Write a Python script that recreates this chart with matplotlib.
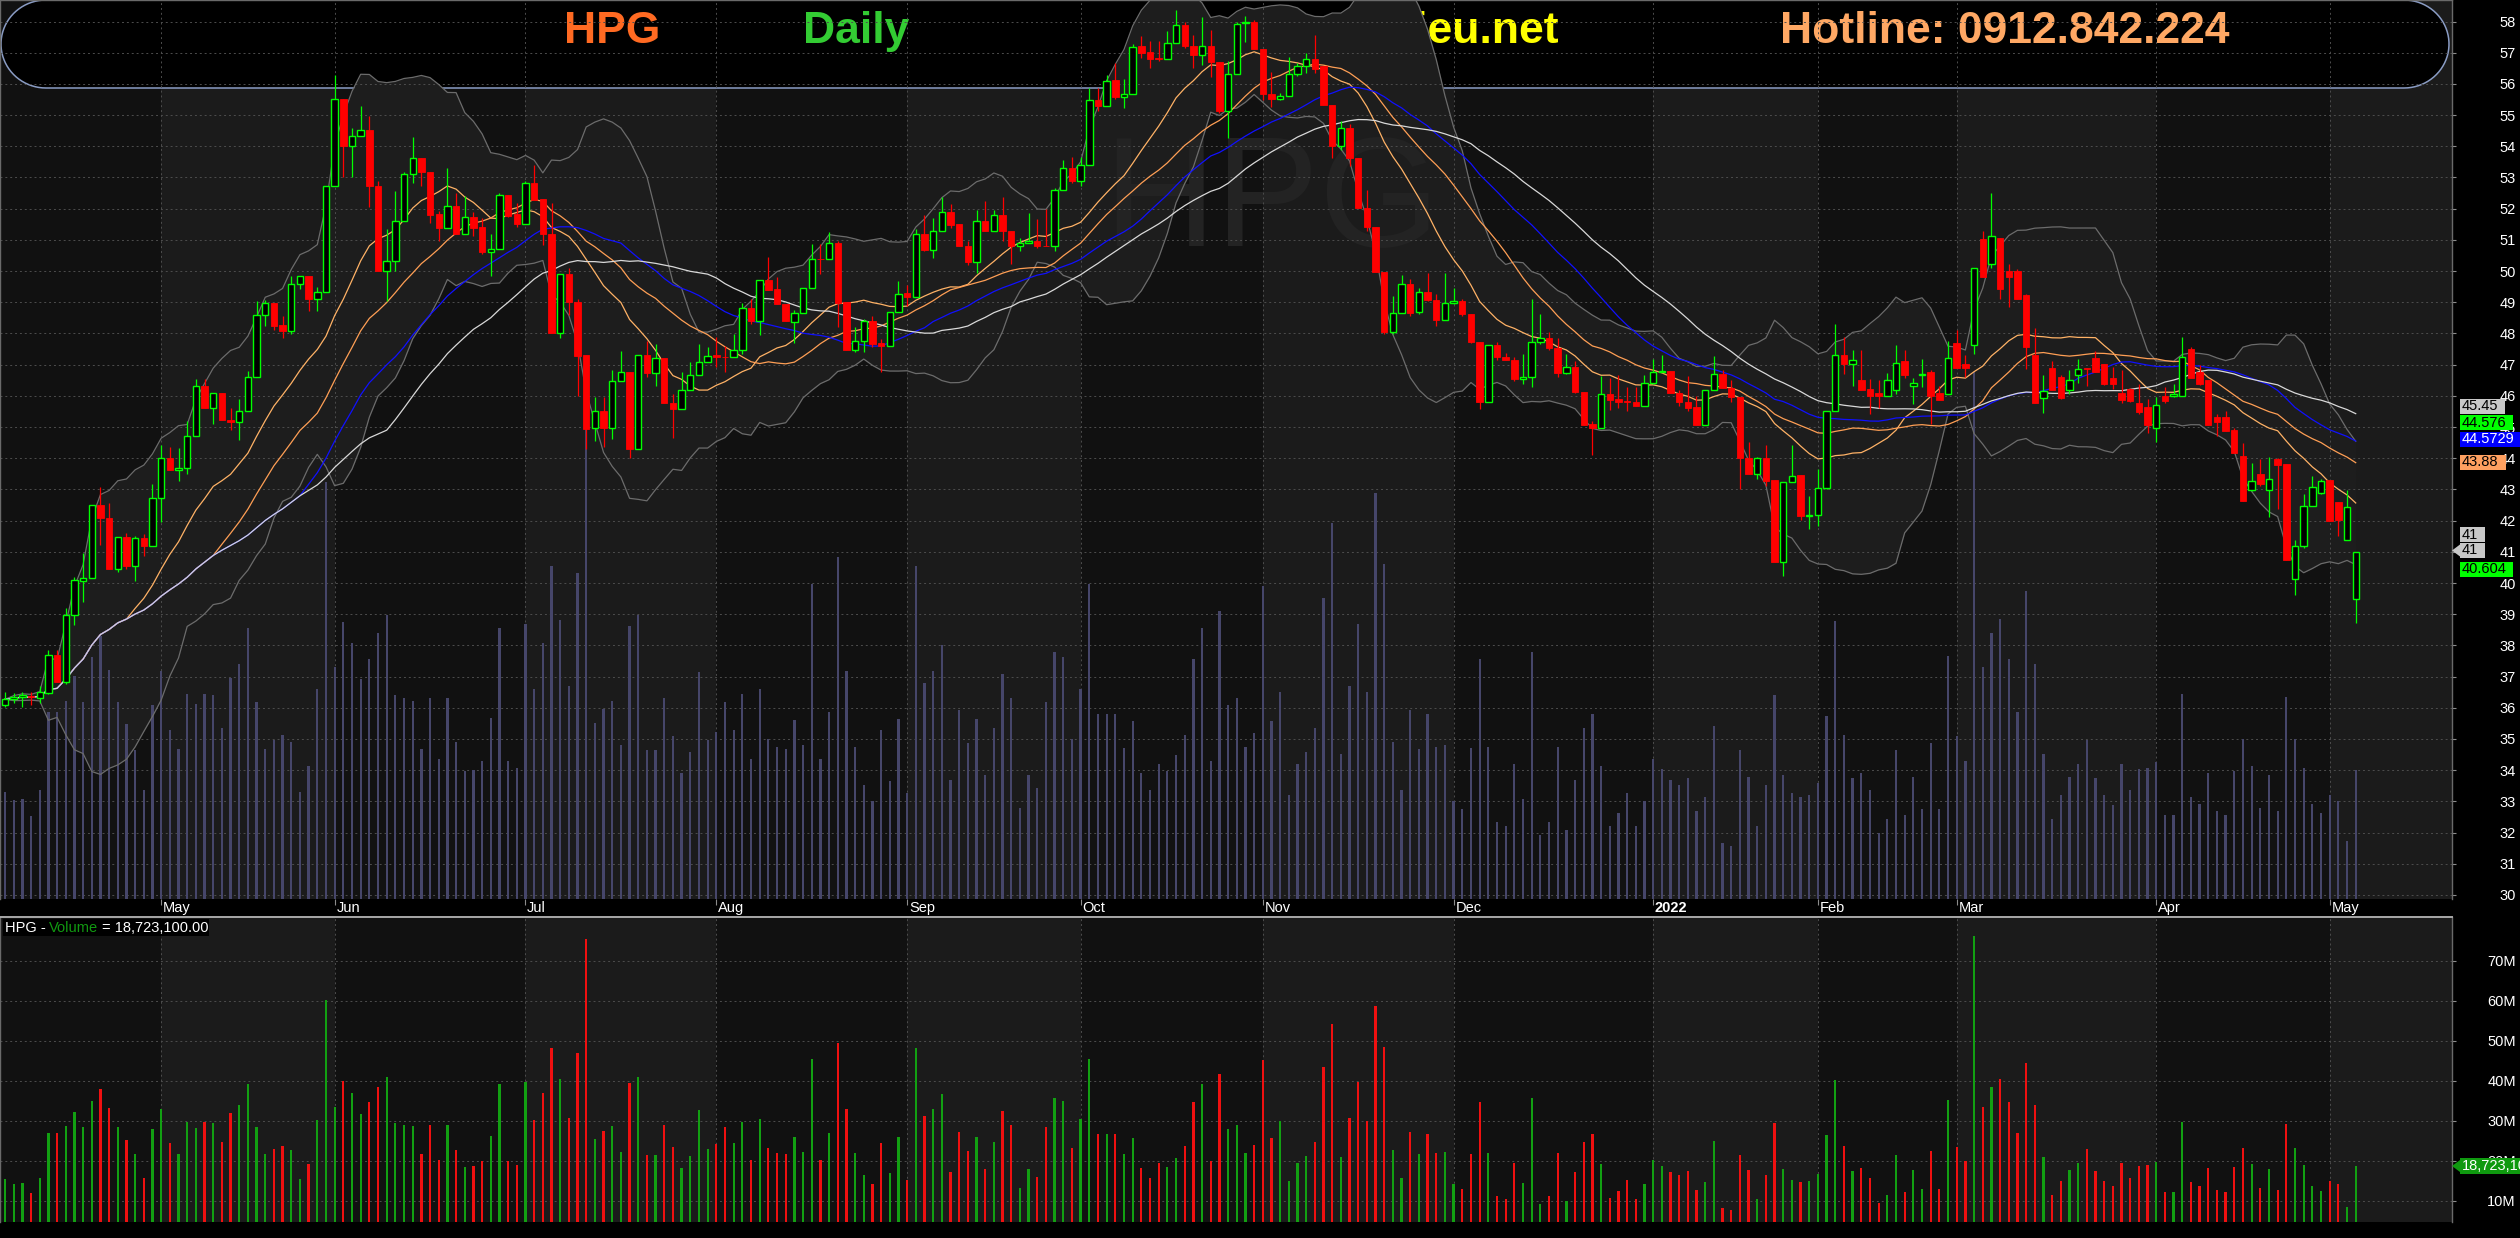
import numpy as np
import pandas as pd
import matplotlib
matplotlib.use("Agg")
import matplotlib.pyplot as plt
from matplotlib.patches import Polygon
from matplotlib.transforms import blended_transform_factory

# HPG daily, avr 2021 -> mai 2022 (prix en milliers, volume en millions)
opens = [
    36.08, 36.27, 36.35, 36.38, 36.32, 36.46, 37.68, 36.84, 38.97, 40.08,
    40.16, 42.51, 42.1, 40.46, 41.47, 40.53, 41.43, 41.19, 42.74, 44.0,
    43.63, 43.7, 44.72, 46.32, 45.6, 46.1, 45.24, 45.16, 45.51, 46.6,
    48.59, 48.99, 48.28, 48.08, 49.57, 49.85, 49.11, 49.34, 52.72, 55.51,
    54.0, 54.32, 54.51, 52.72, 50.01, 50.31, 51.62, 53.1, 53.62, 53.19,
    51.83, 51.39, 52.1, 51.19, 51.72, 51.4, 50.62, 50.71, 52.43, 51.83,
    51.52, 52.82, 52.31, 51.2, 48.0, 49.91, 49.01, 47.3, 44.96, 45.5,
    44.96, 46.48, 46.75, 44.28, 47.3, 46.74, 47.2, 45.78, 45.59, 46.19,
    46.68, 47.1, 47.31, 47.26, 47.24, 47.48, 48.82, 48.39, 49.72, 49.42,
    48.96, 48.38, 48.65, 49.45, 50.4, 50.38, 50.9, 49.0, 47.48, 47.75,
    48.39, 47.69, 47.59, 48.68, 49.3, 49.18, 51.19, 50.69, 51.27, 51.89,
    51.51, 50.8, 50.29, 51.61, 51.28, 51.79, 51.28, 50.8, 50.9, 50.98,
    50.81, 50.8, 52.59, 53.29, 52.88, 53.4, 55.49, 55.3, 56.12, 55.59,
    55.69, 57.2, 57.02, 56.82, 56.8, 57.3, 57.9, 57.21, 56.92, 57.21,
    56.69, 55.12, 56.31, 57.94, 58.0, 57.11, 55.69, 55.53, 55.62, 56.31,
    56.58, 56.8, 56.58, 55.31, 54.01, 54.6, 53.63, 52.02, 51.41, 49.98,
    48.05, 48.67, 49.6, 48.68, 49.32, 49.06, 48.43, 48.98, 49.05, 48.62,
    47.73, 45.81, 47.62, 47.26, 47.16, 46.53, 46.62, 47.73, 47.84, 47.53,
    46.72, 46.94, 46.12, 45.1, 44.96, 46.07, 45.9, 45.82, 45.8, 45.69,
    46.42, 46.76, 46.8, 46.09, 45.8, 45.64, 45.08, 46.2, 46.69, 46.25,
    45.96, 44.0, 43.51, 44.0, 43.3, 40.67, 43.24, 43.46, 42.15, 42.17,
    43.06, 45.53, 47.32, 47.01, 46.52, 46.23, 46.09, 45.99, 46.2, 47.12,
    46.31, 46.67, 46.76, 46.09, 46.07, 47.71, 47.01, 47.62, 51.02, 50.22,
    51.06, 50.0, 50.0, 49.22, 47.32, 45.93, 46.89, 46.6, 46.2, 46.67,
    46.9, 47.21, 47.02, 46.57, 46.08, 46.21, 45.78, 45.63, 44.98, 45.99,
    45.98, 45.98, 47.5, 46.75, 46.5, 45.31, 45.31, 44.9, 44.06, 42.98,
    43.51, 42.98, 43.99, 43.8, 40.13, 41.18, 42.46, 42.89, 43.29, 42.61,
    41.37, 39.48,
]
highs = [
    36.5, 36.46, 36.5, 36.5, 36.7, 37.86, 37.86, 39.2, 40.2, 40.95,
    42.51, 43.08, 42.58, 41.47, 41.6, 41.5, 41.57, 43.16, 44.43, 44.36,
    44.34, 45.2, 46.53, 46.53, 46.1, 46.1, 45.6, 45.9, 46.81, 49.03,
    49.07, 48.99, 48.57, 49.84, 49.85, 49.85, 49.5, 52.72, 56.3, 55.51,
    54.6, 55.28, 54.97, 52.88, 51.36, 52.58, 53.17, 54.3, 53.62, 53.19,
    51.91, 53.31, 52.5, 52.4, 51.88, 51.7, 51.18, 52.5, 52.43, 52.18,
    52.9, 53.4, 52.31, 52.18, 49.91, 50.09, 49.09, 47.3, 45.95, 45.95,
    46.83, 47.43, 46.75, 47.3, 47.75, 47.67, 47.2, 46.05, 46.75, 47.08,
    47.67, 47.56, 47.9, 47.6, 47.99, 48.99, 49.1, 49.72, 50.46, 49.8,
    48.96, 48.75, 49.45, 50.88, 50.88, 51.25, 50.98, 49.0, 48.2, 48.47,
    48.55, 47.82, 48.68, 49.68, 49.54, 51.36, 51.81, 51.7, 52.37, 52.14,
    51.51, 50.95, 51.95, 52.26, 51.95, 52.36, 51.28, 51.06, 51.86, 51.66,
    51.98, 52.67, 53.57, 53.66, 53.66, 55.86, 55.86, 56.27, 56.66, 56.16,
    57.28, 57.55, 57.38, 57.36, 57.7, 58.36, 57.98, 57.56, 58.13, 57.72,
    56.69, 56.73, 58.0, 58.19, 58.06, 57.11, 56.38, 55.72, 56.86, 56.67,
    56.99, 57.56, 56.58, 55.31, 54.81, 54.7, 53.63, 52.61, 51.41, 49.98,
    49.19, 49.89, 49.74, 49.45, 49.95, 49.28, 49.95, 49.45, 49.11, 48.62,
    47.73, 47.62, 47.73, 47.38, 47.23, 47.35, 49.1, 48.62, 48.05, 47.84,
    47.33, 47.13, 46.12, 45.2, 46.64, 46.58, 46.68, 46.28, 46.28, 46.66,
    47.19, 47.32, 46.8, 46.2, 46.64, 46.01, 46.2, 47.28, 46.84, 46.5,
    45.96, 44.51, 44.05, 44.42, 43.3, 43.24, 44.42, 43.46, 42.79, 43.67,
    45.53, 48.29, 47.89, 47.48, 47.48, 46.55, 46.5, 46.74, 47.64, 47.48,
    46.57, 47.19, 46.84, 46.33, 47.76, 48.11, 47.32, 50.11, 51.29, 52.5,
    51.06, 50.23, 50.07, 49.28, 48.16, 46.66, 47.12, 46.66, 46.82, 47.18,
    46.9, 47.45, 47.02, 46.92, 46.83, 46.25, 46.37, 45.91, 45.97, 46.27,
    46.37, 47.9, 47.55, 47.0, 46.5, 45.41, 45.5, 44.98, 44.5, 43.86,
    43.96, 44.05, 44.02, 43.8, 41.37, 42.86, 43.43, 43.35, 43.29, 42.61,
    42.98, 41.0,
]
lows = [
    36.02, 36.16, 36.03, 36.08, 36.16, 36.45, 36.84, 36.77, 38.66, 39.4,
    40.16, 41.23, 40.46, 40.35, 40.46, 40.05, 40.86, 41.19, 41.97, 43.62,
    43.28, 43.5, 44.72, 45.6, 45.1, 45.24, 44.9, 44.6, 45.51, 46.6,
    48.23, 48.12, 47.84, 47.99, 49.43, 48.73, 48.73, 49.34, 52.72, 53.01,
    53.01, 54.32, 52.04, 50.01, 49.03, 50.01, 51.62, 52.83, 52.74, 51.54,
    50.95, 51.39, 51.19, 51.19, 51.13, 50.54, 49.84, 50.71, 51.72, 51.41,
    51.52, 52.29, 50.84, 48.0, 47.87, 48.58, 46.0, 44.3, 44.55, 44.37,
    44.62, 46.48, 44.01, 44.28, 46.61, 46.32, 45.78, 44.66, 45.59, 46.19,
    46.68, 47.1, 46.91, 46.77, 47.24, 47.34, 48.31, 47.96, 49.38, 48.94,
    48.39, 47.71, 48.65, 49.45, 49.91, 50.38, 48.2, 47.48, 47.39, 47.41,
    47.55, 46.77, 47.59, 48.68, 48.89, 49.18, 50.63, 50.42, 51.27, 51.38,
    50.8, 50.2, 49.94, 51.28, 51.28, 50.95, 50.23, 50.63, 50.9, 50.74,
    50.8, 50.63, 52.59, 52.83, 52.73, 53.4, 55.13, 55.3, 55.52, 55.24,
    55.69, 56.83, 56.52, 56.72, 56.8, 57.3, 57.15, 56.5, 56.6, 56.23,
    55.06, 54.26, 56.31, 57.34, 57.11, 55.49, 55.27, 55.49, 55.62, 56.25,
    56.35, 56.35, 55.31, 53.63, 53.88, 53.37, 52.02, 51.28, 49.98, 47.99,
    47.99, 48.67, 48.56, 48.62, 49.03, 48.24, 48.43, 48.94, 48.56, 47.71,
    45.58, 45.81, 47.16, 47.14, 46.47, 46.37, 46.28, 47.67, 47.48, 46.62,
    46.7, 46.09, 45.05, 44.1, 44.96, 45.56, 45.6, 45.53, 45.69, 45.69,
    46.39, 46.76, 46.09, 45.66, 45.53, 45.08, 45.08, 46.2, 46.25, 45.8,
    43.01, 43.49, 43.33, 43.12, 40.67, 40.22, 43.24, 42.02, 41.74, 41.83,
    43.0, 45.53, 46.71, 46.33, 46.2, 45.42, 45.6, 45.99, 46.07, 46.57,
    45.74, 46.28, 45.1, 45.88, 46.07, 46.89, 46.6, 47.35, 49.82, 50.11,
    49.09, 48.86, 49.12, 46.86, 45.76, 45.44, 46.19, 45.89, 46.05, 46.41,
    46.3, 46.77, 46.34, 46.21, 45.78, 45.81, 45.41, 44.82, 44.52, 45.78,
    45.95, 45.98, 46.56, 46.34, 45.07, 44.71, 44.87, 44.16, 42.62, 42.94,
    43.1, 42.12, 42.38, 40.73, 39.62, 41.12, 42.46, 42.86, 41.98, 41.5,
    41.37, 38.71,
]
closes = [
    36.27, 36.35, 36.4, 36.33, 36.49, 37.68, 36.84, 38.97, 40.11, 40.16,
    42.51, 42.08, 40.46, 41.47, 40.53, 41.43, 41.19, 42.74, 44.0, 43.62,
    43.7, 44.72, 46.32, 45.6, 46.1, 45.24, 45.16, 45.51, 46.6, 48.59,
    48.99, 48.23, 48.08, 49.57, 49.85, 49.11, 49.34, 52.72, 55.51, 54.0,
    54.32, 54.51, 52.72, 50.01, 50.31, 51.62, 53.1, 53.62, 53.19, 51.81,
    51.39, 52.1, 51.19, 51.72, 51.38, 50.62, 50.71, 52.43, 51.78, 51.52,
    52.82, 52.29, 51.2, 48.0, 49.91, 49.01, 47.29, 44.94, 45.5, 44.96,
    46.48, 46.75, 44.28, 47.3, 46.74, 47.2, 45.78, 45.59, 46.19, 46.68,
    47.1, 47.29, 47.23, 47.24, 47.48, 48.82, 48.39, 49.72, 49.38, 48.94,
    48.39, 48.65, 49.45, 50.38, 50.38, 50.9, 48.98, 47.48, 47.75, 48.39,
    47.67, 47.59, 48.68, 49.28, 49.18, 51.19, 50.69, 51.27, 51.89, 51.47,
    50.8, 50.29, 51.61, 51.28, 51.79, 51.28, 50.8, 50.9, 50.98, 50.8,
    50.8, 52.59, 53.29, 52.88, 53.4, 55.49, 55.3, 56.1, 55.58, 55.69,
    57.18, 57.0, 56.8, 56.8, 57.3, 57.9, 57.2, 56.92, 57.21, 56.69,
    55.12, 56.31, 57.91, 58.0, 57.11, 55.69, 55.53, 55.62, 56.31, 56.58,
    56.8, 56.48, 55.31, 54.01, 54.6, 53.63, 52.02, 51.41, 49.98, 48.05,
    48.67, 49.6, 48.67, 49.32, 49.06, 48.43, 48.98, 49.03, 48.62, 47.73,
    45.81, 47.62, 47.23, 47.14, 46.53, 46.62, 47.73, 47.86, 47.53, 46.72,
    46.91, 46.12, 45.05, 44.96, 46.07, 45.88, 45.8, 45.8, 45.69, 46.42,
    46.76, 46.8, 46.09, 45.8, 45.62, 45.08, 46.2, 46.69, 46.25, 45.96,
    44.0, 43.49, 44.0, 43.28, 40.67, 43.24, 43.44, 42.15, 42.17, 43.06,
    45.53, 47.32, 47.01, 47.15, 46.2, 45.99, 45.99, 46.51, 47.05, 46.66,
    46.41, 46.69, 45.99, 45.88, 47.21, 46.89, 46.89, 50.11, 49.82, 51.11,
    49.43, 49.81, 49.12, 47.57, 45.76, 46.14, 46.19, 45.92, 46.5, 46.85,
    46.87, 46.77, 46.37, 46.37, 45.86, 45.84, 45.48, 45.07, 45.7, 45.84,
    46.07, 47.23, 46.56, 46.37, 45.07, 45.16, 44.87, 44.16, 42.62, 43.28,
    43.17, 43.34, 43.78, 40.73, 41.18, 42.46, 43.07, 43.27, 41.98, 42.01,
    42.44, 41.0,
]
volumes = [
    15.5, 14.3, 14.5, 12.0, 15.8, 27.0, 27.0, 28.7, 32.3, 28.5,
    35.0, 38.0, 33.1, 28.5, 25.3, 21.6, 15.8, 28.0, 33.0, 24.5,
    21.7, 29.7, 28.2, 29.7, 29.5, 24.7, 32.0, 34.0, 39.2, 28.5,
    21.7, 23.0, 23.7, 22.7, 15.5, 19.3, 30.3, 60.3, 33.5, 40.0,
    37.0, 31.8, 34.7, 38.5, 41.0, 29.5, 29.0, 28.7, 21.7, 29.0,
    20.3, 29.0, 22.7, 18.5, 18.7, 20.0, 26.2, 39.2, 20.0, 19.0,
    39.8, 30.3, 37.0, 48.2, 40.4, 30.8, 47.1, 75.5, 25.4, 27.5,
    28.7, 22.2, 39.5, 41.0, 21.5, 21.5, 29.0, 23.5, 18.2, 21.3,
    32.8, 23.0, 24.2, 28.5, 24.5, 29.7, 20.3, 30.4, 23.2, 22.0,
    21.7, 25.9, 22.2, 45.5, 20.3, 27.0, 49.5, 33.0, 22.0, 16.5,
    14.1, 24.4, 17.0, 26.0, 15.3, 48.2, 31.3, 33.0, 36.8, 17.2,
    27.3, 22.5, 26.0, 18.0, 24.7, 32.5, 29.0, 13.2, 18.0, 16.0,
    28.5, 35.7, 35.0, 23.2, 30.4, 45.5, 26.8, 26.8, 26.8, 21.8,
    25.8, 18.2, 15.8, 19.5, 18.5, 20.8, 23.7, 34.7, 39.2, 20.0,
    41.7, 28.0, 29.0, 22.0, 24.0, 45.2, 25.8, 30.0, 15.0, 19.5,
    21.3, 24.7, 43.5, 54.3, 21.0, 30.8, 39.7, 30.0, 58.7, 48.5,
    22.7, 15.8, 27.3, 21.7, 26.8, 22.0, 22.2, 14.1, 13.0, 21.8,
    34.7, 22.0, 11.1, 10.5, 19.5, 14.5, 35.7, 9.3, 11.1, 22.0,
    10.0, 17.2, 24.7, 26.8, 19.2, 10.6, 12.5, 15.3, 10.5, 14.1,
    20.3, 18.8, 17.2, 16.5, 17.5, 12.7, 14.8, 25.0, 8.1, 7.6,
    21.5, 17.7, 10.5, 16.5, 29.5, 18.0, 15.3, 14.8, 15.0, 16.8,
    26.5, 40.2, 23.7, 17.5, 18.2, 15.8, 9.5, 11.5, 21.5, 12.2,
    17.7, 13.0, 22.5, 13.0, 35.2, 23.5, 20.0, 76.2, 33.5, 38.5,
    40.5, 34.7, 27.0, 44.5, 34.0, 21.0, 11.5, 15.0, 17.7, 19.5,
    23.0, 17.5, 15.0, 13.6, 19.5, 15.8, 18.8, 19.0, 19.8, 12.2,
    12.2, 29.7, 14.8, 13.8, 18.2, 12.7, 12.2, 18.5, 23.2, 19.2,
    13.2, 18.0, 12.7, 29.2, 23.2, 19.0, 13.8, 12.5, 15.0, 14.1,
    8.4, 18.7231,
]

# debut de chaque mois (indice de la seance)
month_start = [18, 38, 60, 82, 104, 124, 145, 167, 190, 209, 225, 248, 268]
month_names = ['May', 'Jun', 'Jul', 'Aug', 'Sep', 'Oct', 'Nov', 'Dec', '2022',
               'Feb', 'Mar', 'Apr', 'May']
price_ticks = list(range(30, 59))
vol_ticks = [10, 20, 30, 40, 50, 60, 70]
ma_periods = [15, 25, 35, 45]
bb_period = 15
tag_texts = ['45.45', '44.576', '44.5729', '43.88', '41', '41', '40.604']

W, H = 2520, 1238
plt.rcParams['font.family'] = ['Liberation Sans', 'DejaVu Sans']
NARROW = ['Liberation Sans Narrow', 'Liberation Sans', 'DejaVu Sans']

o = np.array(opens)
h = np.array(highs)
l = np.array(lows)
c = np.array(closes)
v = np.array(volumes)
x = np.arange(len(c))
up = c >= o

s = pd.Series(c)
ma = {p: s.rolling(p, min_periods=1).mean().values for p in ma_periods}
sd = s.rolling(bb_period, min_periods=1).std(ddof=0).values
bb_mid = s.rolling(bb_period, min_periods=1).mean().values
bb_up = bb_mid + 2 * sd
bb_lo = bb_mid - 2 * sd

fig = plt.figure(figsize=(W / 100, H / 100), dpi=100, facecolor='black')
ax = fig.add_axes([0, 1 - 899 / H, 2452 / W, 899 / H])
axv = fig.add_axes([0, 1 - 1222 / H, 2452 / W, 305 / H])

xlo, xhi = -0.58, 282.1
ylo, yhi = 29.87, 58.69
vtop = 130.0  # volume (M) en haut du panneau prix

# fond alterne par mois
edges = [xlo] + month_start + [xhi]
for k in range(len(edges) - 1):
    col = '#111111' if k % 2 == 0 else '#1b1b1b'
    ax.axvspan(edges[k], edges[k + 1], color=col, lw=0, zorder=0.1)
    axv.axvspan(edges[k], edges[k + 1], color=col, lw=0, zorder=0.1)

# cadre du titre (arrondi)
t = np.linspace(np.pi / 2, 1.5 * np.pi, 40)
t2 = np.linspace(-np.pi / 2, np.pi / 2, 40)
bx = np.r_[46 + 45 * np.cos(t), 2404 + 45 * np.cos(t2)]
by = np.r_[44 - 44 * np.sin(t), 44 - 44 * np.sin(t2)]
ax.add_patch(Polygon(np.c_[bx / W, 1 - by / H], closed=True, transform=fig.transFigure,
                     facecolor='black', edgecolor='#8a9cc4', lw=1.1, zorder=0.2))

def title(xp, txt, col, ha):
    ax.text(xp / W, 1 - 43 / H, txt, transform=fig.transFigure, ha=ha, va='baseline',
            color=col, fontsize=32, fontweight='bold', zorder=0.25)

title(612, 'HPG', '#ff6a22', 'center')
title(803, 'Daily', '#33cc33', 'left')
title(1559, 'www.cophieu.net', '#ffff00', 'right')
title(2005, 'Hotline: 0912.842.224', '#ffa864', 'center')

# bandes de Bollinger
ax.fill_between(x, bb_lo, bb_up, color='#1d1d1d', lw=0, zorder=0.3)
ax.text(1272 / W, 1 - 205 / H, 'HPG', transform=fig.transFigure, ha='center', va='center',
        fontsize=112, color='#232323', family=NARROW, zorder=0.35)
ax.plot(x, bb_up, color='#6c6c6c', lw=0.9, zorder=0.95)
ax.plot(x, bb_lo, color='#6c6c6c', lw=0.9, zorder=0.95)

# volume en fond du panneau prix
ax.bar(x, v * (yhi - ylo) / vtop, bottom=ylo, width=0.26, color='#46466a', lw=0, zorder=0.6)

# moyennes mobiles
ma_colors = {15: '#ffb266', 25: '#ff9f55', 35: '#1010ff', 45: '#d9d9d9'}
for p in ma_periods:
    ax.plot(x, ma[p], color=ma_colors[p], lw=0.9, zorder=1)

# chandeliers
ax.vlines(x[up], l[up], h[up], colors='#00ff00', lw=0.9, zorder=1.8)
ax.vlines(x[~up], l[~up], h[~up], colors='#ff0000', lw=0.9, zorder=1.8)
ax.bar(x[up], (c - o)[up], bottom=o[up], width=0.74, facecolor='black',
       edgecolor='#00ff00', lw=1.0, zorder=2)
ax.bar(x[~up], (o - c)[~up], bottom=c[~up], width=0.74, facecolor='#ff0000',
       edgecolor='#ff0000', lw=0.6, zorder=2)

# panneau volume
axv.bar(x, v, width=0.26, color=np.where(up, '#12a012', '#f01010'), lw=0, zorder=2)

ax.set_ylim(ylo, yhi)
axv.set_ylim(4.7, 81.0)
ax.set_yticks(price_ticks)
ax.set_yticklabels([str(p) for p in price_ticks])
axv.set_yticks(vol_ticks)
axv.set_yticklabels(['%dM' % t_ for t_ in vol_ticks])

for a in (ax, axv):
    a.set_facecolor('#161616')
    a.set_xlim(xlo, xhi)
    a.set_xticks(month_start)
    a.set_axisbelow(True)
    a.grid(True, color='#4d4d4d', ls=(0, (2, 3)), lw=0.7)
    a.yaxis.tick_right()
    a.tick_params(axis='y', length=3, width=0.8, color='#8c8c8c', labelcolor='white',
                  labelsize=10.5, pad=43)
    for lb in a.get_yticklabels():
        lb.set_ha('right')
    for sp in a.spines.values():
        sp.set_color('#6a6a6a')
        sp.set_linewidth(1)
    a.spines['bottom'].set_visible(False)
ax.tick_params(axis='x', length=4.5, width=0.8, color='#8c8c8c', direction='out',
               labelbottom=False)
axv.tick_params(axis='x', length=0, labelbottom=False)
axv.spines['top'].set_color('#a8a8a8')
axv.spines['top'].set_linewidth(1.4)

# mois
tr = blended_transform_factory(ax.transData, ax.transAxes)
for idx, name in zip(month_start, month_names):
    ax.text(idx + 0.2, -9 / 899, name, transform=tr, ha='left', va='center', color='white',
            fontsize=10.5, fontweight='bold' if name == '2022' else 'normal')

# en-tete volume
fig.add_artist(Polygon([(3 / W, 1 - 919 / H), (209 / W, 1 - 919 / H), (209 / W, 1 - 936 / H),
                        (3 / W, 1 - 936 / H)], closed=True, transform=fig.transFigure,
                       facecolor='black', edgecolor='none', zorder=3))
for xp, txt, col in [(5, 'HPG - ', 'white'), (49, 'Volume', '#119911'),
                     (102, '= {:,.2f}'.format(v[-1] * 1e6), 'white')]:
    fig.text(xp / W, 1 - 927.5 / H, txt, ha='left', va='center', color=col,
             fontsize=10.5, zorder=4)

# etiquettes de valeur a droite
def tag(yc, x1, txt, fc, tc, arrow=False, half=7.5):
    pts = [(2460, yc - half), (x1, yc - half), (x1, yc + half), (2460, yc + half)]
    if arrow:
        pts += [(2460, yc + 6), (2452, yc), (2460, yc - 6)]
    fig.add_artist(Polygon([(px / W, 1 - py / H) for px, py in pts], closed=True,
                           transform=fig.transFigure, facecolor=fc, edgecolor='none',
                           zorder=5))
    fig.text(2462 / W, 1 - yc / H, txt, ha='left', va='center', color=tc,
             fontsize=10.5, zorder=6)

tag(406.5, 2505, tag_texts[0], '#c8c8c8', 'black')
tag(422.5, 2513, tag_texts[1], '#00ff00', 'black')
tag(439.5, 2520, tag_texts[2], '#0000ff', 'white')
tag(462.5, 2506, tag_texts[3], '#ffa060', 'black')
tag(534.5, 2485, tag_texts[4], '#c8c8c8', 'black')
tag(550.5, 2485, tag_texts[5], '#c8c8c8', 'black', arrow=True)
tag(569.0, 2513, tag_texts[6], '#00ff00', 'black')
tag(1166.0, 2520, '{:,.2f}'.format(v[-1] * 1e6), '#0f990f', 'white', arrow=True, half=8)

fig.savefig('out.png', dpi=100, facecolor='black')
